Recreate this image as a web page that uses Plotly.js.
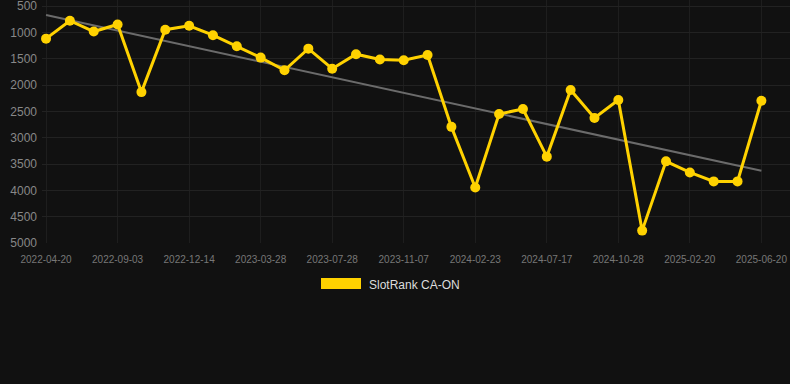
<!DOCTYPE html>
<html>
<head>
<meta charset="utf-8">
<script src="https://cdn.plot.ly/plotly-3.0.1.min.js"></script>
<style>
html,body{margin:0;padding:0;background:#111111;}
#chart{width:790px;height:384px;}
</style>
</head>
<body>
<div id="chart"></div>
<script>
// Rank values (lower number = better rank), one per observation
const rankValues = [1120, 780, 985, 850, 2135, 950, 875, 1055, 1265, 1480,
  1720, 1310, 1690, 1415, 1515, 1530, 1430, 2795, 3945, 2550,
  2455, 3360, 2095, 2625, 2285, 4765, 3450, 3660, 3830, 3830, 2300];
const pointIndex = rankValues.map((v, i) => i);
const tickIndex = [0, 3, 6, 9, 12, 15, 18, 21, 24, 27, 30];
const tickLabels = ['2022-04-20', '2022-09-03', '2022-12-14', '2023-03-28', '2023-07-28',
  '2023-11-07', '2024-02-23', '2024-07-17', '2024-10-28', '2025-02-20', '2025-06-20'];
const trendX = [0, 30];
const trendY = [670, 3630];
const yTicks = [500, 1000, 1500, 2000, 2500, 3000, 3500, 4000, 4500, 5000];
const seriesName = 'SlotRank CA-ON';

const traces = [
  {
    x: trendX, y: trendY, type: 'scatter', mode: 'lines',
    line: {color: '#6b6b6b', width: 2}, hoverinfo: 'skip', showlegend: false
  },
  {
    x: pointIndex, y: rankValues, type: 'scatter', mode: 'lines+markers',
    name: seriesName,
    line: {color: '#FFD200', width: 3},
    marker: {color: '#FFD200', size: 10},
    cliponaxis: false, showlegend: false
  }
];

const plotH = 243;
const layout = {
  width: 790, height: 384,
  paper_bgcolor: '#111111', plot_bgcolor: '#111111',
  margin: {l: 42, r: 0, t: 0, b: 141},
  showlegend: false,
  font: {family: 'Liberation Sans, Arial, sans-serif'},
  xaxis: {
    range: [-0.17, 31.2], tickmode: 'array', tickvals: tickIndex, ticktext: tickLabels,
    showgrid: true, gridcolor: '#1e1e1e', zeroline: false, showline: false,
    ticks: 'outside', ticklen: 7, tickcolor: 'rgba(0,0,0,0)',
    tickfont: {size: 10, color: '#777777'}
  },
  yaxis: {
    range: [5000, 386], tickmode: 'array', tickvals: yTicks,
    showgrid: true, gridcolor: '#222222', zeroline: false, showline: false,
    tickfont: {size: 12, color: '#888888'}, ticklabelstandoff: 4,
    ticklabeloverflow: 'allow'
  },
  shapes: [
    {type: 'rect', xref: 'paper', yref: 'paper', x0: 279/748, x1: 319/748,
     y0: (plotH - 278) / plotH, y1: (plotH - 289) / plotH,
     fillcolor: '#FFD200', line: {width: 0}}
  ],
  annotations: [
    {xref: 'paper', yref: 'paper', x: 325/748, y: (plotH - 284.5) / plotH,
     xanchor: 'left', yanchor: 'middle', showarrow: false,
     text: seriesName, font: {size: 12, color: '#dddddd'}}
  ]
};

Plotly.newPlot('chart', traces, layout, {displayModeBar: false, staticPlot: true});
</script>
</body>
</html>
